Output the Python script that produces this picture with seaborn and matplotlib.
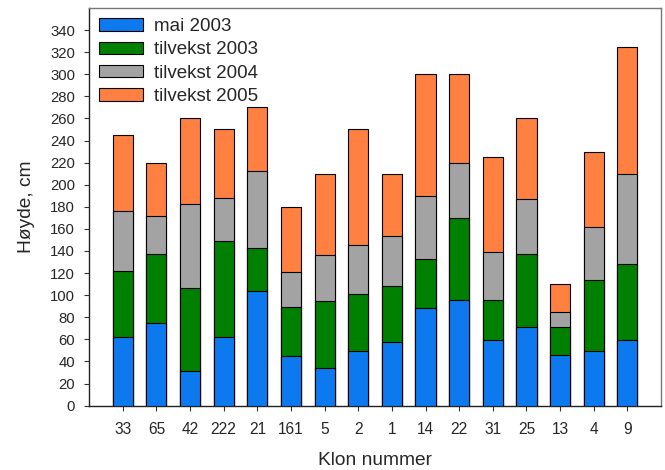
import numpy as np
import pandas as pd
import matplotlib
matplotlib.use("Agg")
import matplotlib.pyplot as plt
import seaborn as sns
from matplotlib.patches import Patch

clones = ["33", "65", "42", "222", "21", "161", "5", "2", "1", "14", "22", "31", "25", "13", "4", "9"]
mai_2003 = [62, 75, 31, 62, 103.5, 45, 34.5, 49, 57.5, 88.5, 95.5, 59, 71, 45.5, 49, 59]
tilvekst_2003 = [60, 62, 75.5, 87, 39.5, 44, 60, 52, 50.5, 44, 74, 36.5, 66.5, 26, 64.5, 69]
tilvekst_2004 = [54, 35, 76, 39, 69, 32, 41.5, 44, 46, 57, 50, 44, 50, 13, 48, 81.5]
tilvekst_2005 = [69, 48, 77.5, 62, 58, 59, 74, 105, 56, 110.5, 80.5, 85.5, 72.5, 25.5, 68.5, 115.5]
series_names = ["mai 2003", "tilvekst 2003", "tilvekst 2004", "tilvekst 2005"]
colors = ["#0D79EF", "#008000", "#A3A3A3", "#FF8040"]
yticks = list(range(0, 341, 20))

sns.set_theme(style="white")
plt.rcParams["font.family"] = ["Liberation Sans", "DejaVu Sans"]

fig = plt.figure(figsize=(6.65, 4.70), dpi=100)
ax = fig.add_axes([0.134, 0.137, 0.860, 0.846])

layers = [mai_2003, tilvekst_2003, tilvekst_2004, tilvekst_2005]
cum = np.cumsum(np.array(layers), axis=0)
df = pd.DataFrame({"Klon": clones})
for i in range(4):
    df[series_names[i]] = cum[i]

for i in reversed(range(4)):
    sns.barplot(data=df, x="Klon", y=series_names[i], color=colors[i], width=0.6,
                edgecolor="black", linewidth=0.8, saturation=1, ax=ax, zorder=2 + (4 - i))

ax.set_xlim(-1, 16)
ax.set_ylim(0, 360)
ax.set_yticks(yticks)
ax.set_yticklabels([str(t) for t in yticks], fontsize=10.7)
ax.tick_params(axis="x", labelsize=11.2, length=3.6, width=0.8, color="#333333", direction="out", bottom=True, pad=8)
ax.tick_params(axis="y", length=3.6, width=0.8, color="#333333", direction="out", left=True, pad=6.5)
ax.set_xlabel("Klon nummer", fontsize=13.8, labelpad=11)
ax.set_ylabel("Høyde, cm", fontsize=13.8, labelpad=11)

for side in ["left", "bottom"]:
    ax.spines[side].set_color("#222222")
    ax.spines[side].set_linewidth(1.0)
for side in ["top", "right"]:
    ax.spines[side].set_color("#777777")
    ax.spines[side].set_linewidth(1.0)

handles = [Patch(facecolor=c, edgecolor="black", linewidth=0.8) for c in colors]
ax.legend(handles, series_names, loc="upper left", frameon=False, fontsize=13.5,
          handlelength=2.35, handleheight=0.65, labelspacing=0.33, borderaxespad=0.2,
          handletextpad=0.55, borderpad=0.35, bbox_to_anchor=(0.0, 1.0))

fig.savefig("out.png", dpi=100)
